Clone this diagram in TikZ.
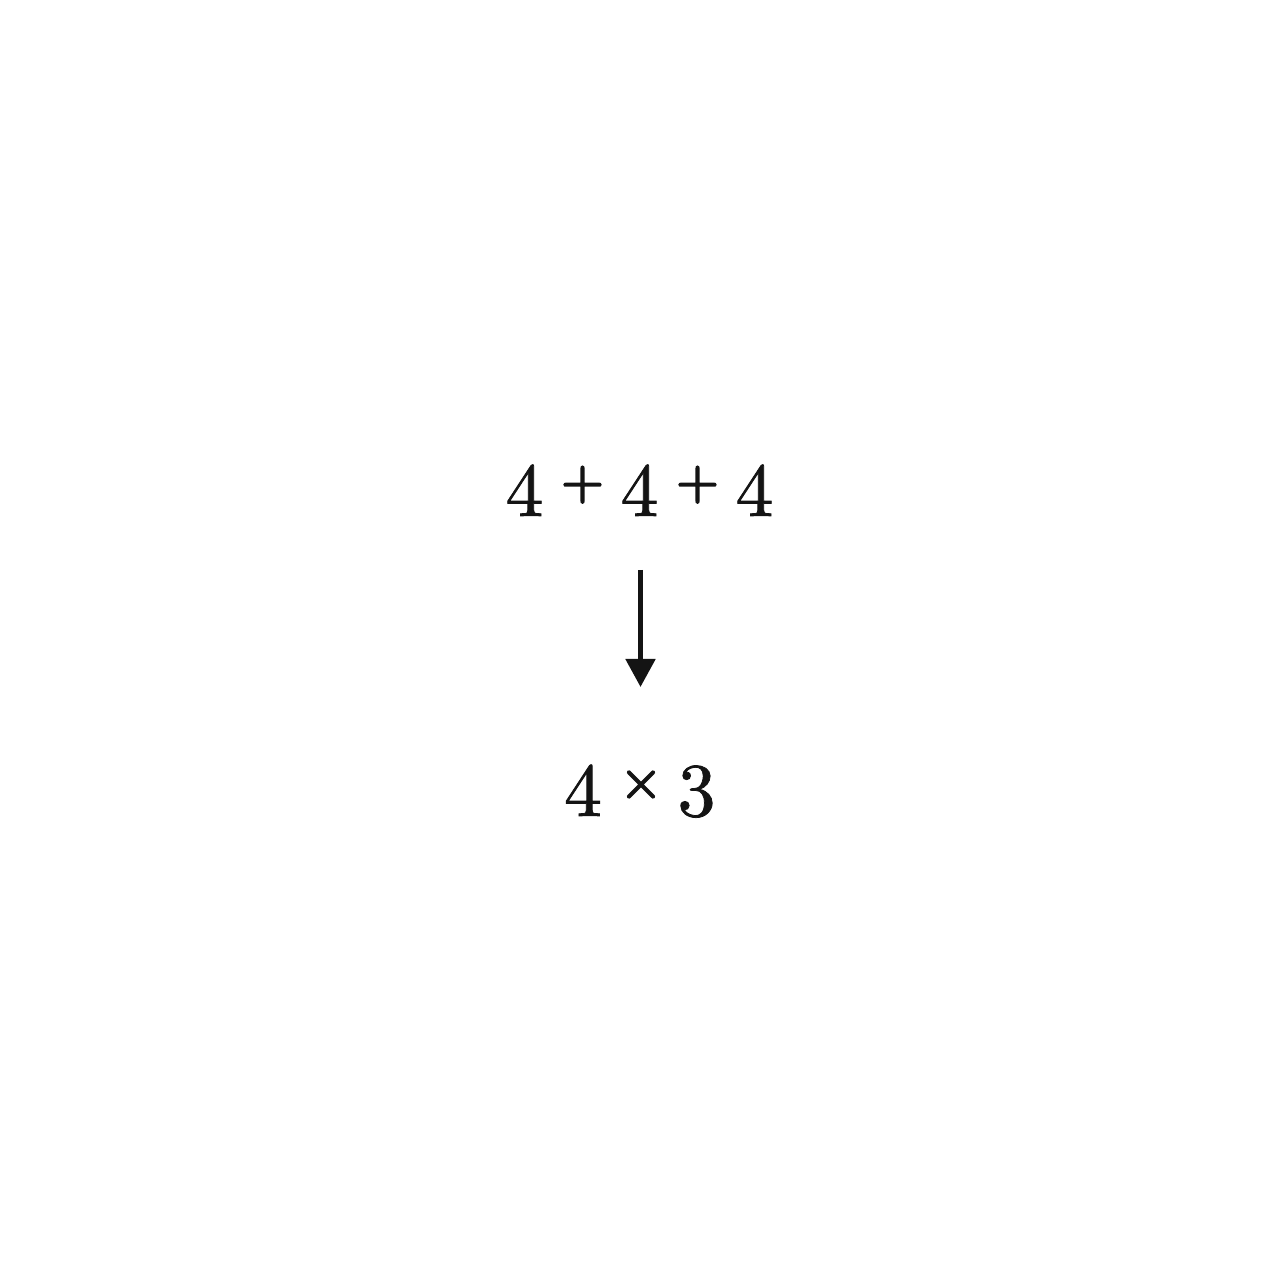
\documentclass[tikz,border=0pt]{standalone}
\usetikzlibrary{arrows.meta}
\definecolor{ink}{HTML}{141414}
\font\digfont="[lmroman10-regular.otf]:embolden=1" at 21.6pt
\font\opfont="[lmroman10-regular.otf]:embolden=3.5" at 15.5pt
\begin{document}
\begin{tikzpicture}[x=1cm,y=1cm,
  digit/.style={inner sep=0pt,outer sep=0pt,anchor=base,text=ink,font=\digfont},
  oper/.style={inner sep=0pt,outer sep=0pt,anchor=center,text=ink,font=\opfont},
  arr/.style={draw=ink,line width=1.45pt,-{Triangle[width=0.29cm,length=0.28cm]}}]
\useasboundingbox[fill=white] (0,0) rectangle (12.8,-12.8);
% top expression
\node[digit] (d1) at (5.245,-5.16) {4};
\node[oper]  (p1) at (5.825,-4.847) {+};
\node[digit] (d2) at (6.395,-5.16) {4};
\node[oper]  (p2) at (6.975,-4.847) {+};
\node[digit] (d3) at (7.545,-5.16) {4};
% bottom expression
\node[digit] (e1) at (5.83,-8.16) {4};
\node[oper]  (t1) at (6.41,-7.845) {×};
\node[digit] (e2) at (6.965,-8.16) {3};
% arrow
\coordinate (as) at (6.405,-5.70);
\coordinate (ae) at (6.405,-6.87);
\draw[arr] (as) -- (ae);
\end{tikzpicture}
\end{document}
